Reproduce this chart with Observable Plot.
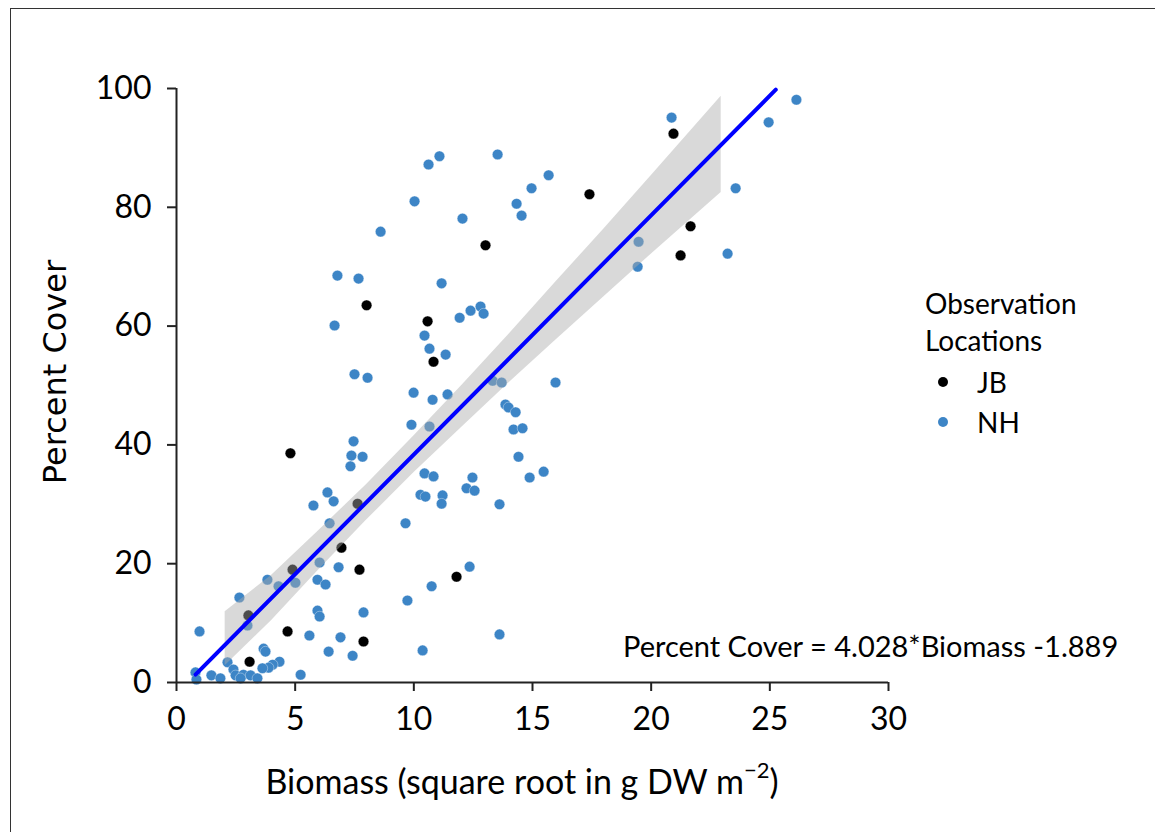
<!DOCTYPE html>
<html>
<head>
<meta charset="utf-8">
<script src="https://cdn.jsdelivr.net/npm/d3@7"></script>
<script src="https://cdn.jsdelivr.net/npm/@observablehq/plot@0.6"></script>
<style>
  html, body { margin: 0; padding: 0; background: #fff; overflow: hidden; }
  #wrap { position: relative; width: 1155px; height: 832px; }
  #border { position: absolute; left: 10px; top: 8px; width: 1160px; height: 840px; border: 1.5px solid #333; box-sizing: border-box; }
  .lbl { position: absolute; white-space: nowrap; color: #000; }
  #ytitle { font-family: "DejaVu Sans", sans-serif; font-size: 32px; left: 55px; top: 372px; transform: translate(-50%, -50%) rotate(-90deg); }
  #xtitle { font-family: Lato, sans-serif; font-size: 34px; left: 522px; top: 780px; transform: translate(-50%, -50%); }
  #xtitle sup { font-size: 22px; position: relative; top: -3px; }
  #eq { font-family: Lato, sans-serif; font-size: 29px; left: 623px; top: 645px; transform: translate(0, -50%); }
  .leg { font-family: Lato, sans-serif; font-size: 28px; }
  .dot { position: absolute; width: 10px; height: 10px; border-radius: 50%; transform: translate(-50%, -50%); }
</style>
</head>
<body>
<div id="wrap">
  <div id="chart"></div>
  <div id="border"></div>
</div>
<script>
// ---- data ----
const jbX = [20.94, 17.40, 21.66, 21.24, 13.02, 8.01, 10.58, 10.83, 4.80, 7.63, 6.95, 7.71, 4.89, 11.80, 3.03, 4.68, 7.88, 3.08];
const jbY = [92.4, 82.2, 76.8, 71.9, 73.6, 63.5, 60.8, 54.0, 38.6, 30.1, 22.7, 19.0, 19.0, 17.8, 11.3, 8.6, 6.9, 3.5];

const nhX = [20.86, 26.12, 24.95, 13.53, 11.08, 10.62, 15.68, 14.96, 23.56, 14.33,
             14.54, 10.03, 12.05, 8.60, 19.47, 19.43, 23.22, 6.78, 7.67, 11.17,
             6.66, 11.93, 12.39, 12.81, 12.94, 10.45, 10.66, 11.34, 7.50, 8.05,
             9.99, 9.90, 7.46, 7.37, 7.84, 7.33, 6.36, 6.62, 5.77, 6.45,
             9.65, 10.79, 11.42, 15.97, 13.32, 13.70, 13.86, 13.99, 14.29, 14.20,
             14.58, 10.66, 14.41, 14.88, 15.47, 10.45, 10.83, 12.47, 10.28, 10.49,
             11.21, 11.17, 12.22, 12.56, 13.61, 12.35, 10.75, 9.73, 13.61, 10.37,
             6.03, 6.83, 5.01, 3.83, 4.30, 5.94, 6.28, 2.65, 5.94, 6.03,
             7.88, 2.99, 0.97, 5.60, 6.91, 6.41, 7.42, 3.67, 3.75, 4.34,
             4.05, 3.88, 3.62, 2.15, 5.23, 1.47, 1.85, 0.80, 0.84, 2.40,
             2.49, 2.82, 3.12, 3.41, 2.70];
const nhY = [95.1, 98.1, 94.3, 88.9, 88.6, 87.2, 85.4, 83.2, 83.2, 80.6,
             78.6, 81.0, 78.1, 75.9, 74.2, 70.0, 72.2, 68.5, 68.0, 67.2,
             60.1, 61.4, 62.6, 63.3, 62.1, 58.4, 56.2, 55.2, 51.9, 51.3,
             48.8, 43.4, 40.6, 38.2, 38.0, 36.4, 32.0, 30.5, 29.8, 26.8,
             26.8, 47.6, 48.5, 50.5, 50.8, 50.5, 46.8, 46.3, 45.5, 42.6,
             42.8, 43.1, 38.0, 34.5, 35.5, 35.2, 34.7, 34.5, 31.6, 31.3,
             31.5, 30.1, 32.7, 32.3, 30.0, 19.5, 16.2, 13.8, 8.1, 5.4,
             20.2, 19.4, 16.8, 17.3, 16.2, 17.3, 16.5, 14.3, 12.1, 11.1,
             11.8, 9.6, 8.6, 7.9, 7.6, 5.2, 4.5, 5.7, 5.2, 3.5,
             3.0, 2.5, 2.4, 3.4, 1.3, 1.2, 0.7, 1.7, 0.5, 2.2,
             1.2, 1.3, 1.2, 0.7, 0.7];

// fitted line endpoints and confidence band edges
const fitX = [0.80, 25.25];
const fitY = [1.33, 99.8];
const bandX  = [2.05, 4, 6, 8, 10, 12, 14, 16, 18, 20, 22.95];
const bandLo = [2.8, 10.4, 19.0, 27.3, 35.3, 42.9, 50.4, 57.7, 64.9, 72.1, 82.5];
const bandHi = [11.9, 18.0, 25.6, 33.3, 41.5, 49.9, 58.6, 67.5, 76.3, 85.3, 98.7];

const xTicks = [0, 5, 10, 15, 20, 25, 30];
const yTicks = [0, 20, 40, 60, 80, 100];
const groups = ["JB", "NH"];
const colors = ["#000000", "#3d85c6"];

// ---- build tables ----
const pts = [
  ...jbX.map((x, i) => ({x, y: jbY[i], g: "JB"})),
  ...nhX.map((x, i) => ({x, y: nhY[i], g: "NH"}))
];
const band = bandX.map((x, i) => ({x, lo: bandLo[i], hi: bandHi[i]}));
const fit = fitX.map((x, i) => ({x, y: fitY[i]}));

const chart = Plot.plot({
  width: 1155,
  height: 832,
  marginLeft: 176,
  marginRight: 267,
  marginTop: 88,
  marginBottom: 150,
  style: { fontFamily: "Lato, sans-serif", fontSize: "32px", background: "white", color: "#000" },
  x: { domain: [0, 30] },
  y: { domain: [0, 100] },
  color: { domain: groups, range: colors },
  marks: [
    Plot.dot(pts, { x: "x", y: "y", fill: "g", r: 5.3, stroke: "white", strokeWidth: 0.6, strokeOpacity: 0.6 }),
    Plot.areaY(band, { x: "x", y1: "lo", y2: "hi", fill: "#aaaaaa", fillOpacity: 0.45 }),
    Plot.line(fit, { x: "x", y: "y", stroke: "#0000ff", strokeWidth: 4 }),
    Plot.ruleX([0], { y1: 0, y2: 100, stroke: "#222", strokeWidth: 2 }),
    Plot.ruleY([0], { x1: 0, x2: 30, stroke: "#222", strokeWidth: 2 }),
    Plot.axisX({ ticks: xTicks, tickSize: 9, tickPadding: 16, label: null, fontSize: 32, stroke: "#222", strokeWidth: 2 }),
    Plot.axisY({ ticks: yTicks, tickSize: 9, tickPadding: 16, label: null, fontSize: 32, stroke: "#222", strokeWidth: 2 })
  ]
});
document.getElementById("chart").appendChild(chart);

// ---- titles, annotation, legend ----
const wrap = document.getElementById("wrap");
function addLabel(id, html, cls) {
  const d = document.createElement("div");
  if (id) d.id = id;
  d.className = "lbl " + (cls || "");
  d.innerHTML = html;
  wrap.appendChild(d);
  return d;
}
addLabel("ytitle", "Percent Cover");
addLabel("xtitle", "Biomass (square root in g DW m<sup>\u22122</sup>)");
addLabel("eq", "Percent Cover = 4.028*Biomass -1.889");

const legTitle = ["Observation", "Locations"];
const legTop = [303, 340];
legTitle.forEach((t, i) => {
  const d = addLabel(null, t, "leg");
  d.style.left = "925px";
  d.style.top = legTop[i] + "px";
  d.style.transform = "translate(0,-50%)";
});
const legRowY = [382, 422];
groups.forEach((g, i) => {
  const dot = document.createElement("div");
  dot.className = "dot";
  dot.style.left = "943px";
  dot.style.top = legRowY[i] + "px";
  dot.style.background = colors[i];
  wrap.appendChild(dot);
  const d = addLabel(null, g, "leg");
  d.style.left = "977px";
  d.style.top = legRowY[i] + "px";
  d.style.transform = "translate(0,-50%)";
});
</script>
</body>
</html>
